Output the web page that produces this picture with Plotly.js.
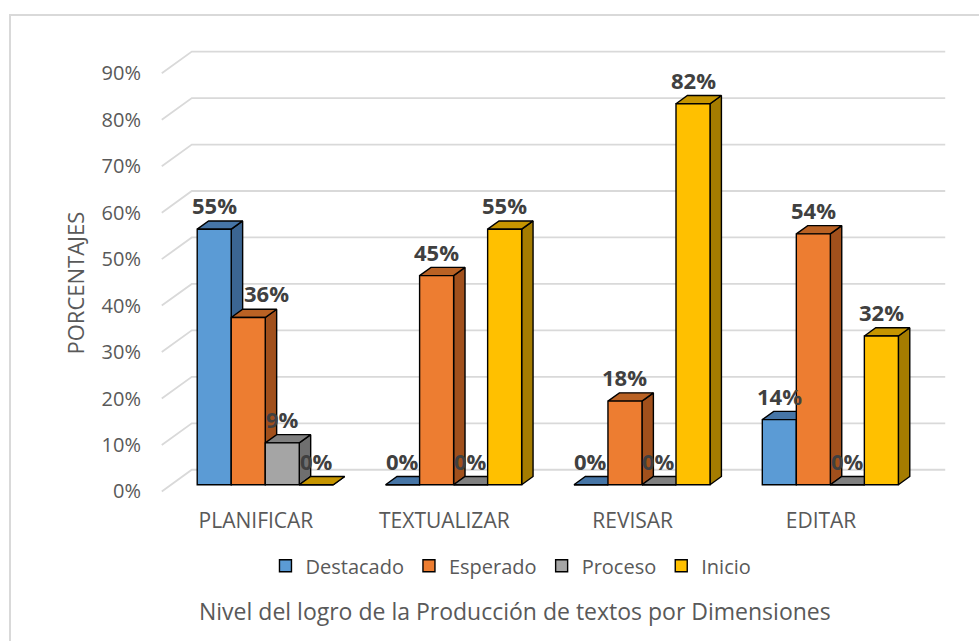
<!DOCTYPE html>
<html><head><meta charset="utf-8">
<script src="https://cdn.plot.ly/plotly-3.0.1.min.js"></script>
<style>
html,body{margin:0;padding:0;overflow:hidden;background:#fff;width:979px;height:641px}
#chart{position:absolute;left:0;top:0;width:979px;height:641px}
#frame{position:absolute;left:9px;top:14px;width:1000px;height:700px;border:2px solid #d9d9d9;pointer-events:none}
</style>
</head><body>
<div id="chart"></div><div id="frame"></div>
<script>
// ---- data ----
const categories = ['PLANIFICAR', 'TEXTUALIZAR', 'REVISAR', 'EDITAR'];
const seriesNames = ['Destacado', 'Esperado', 'Proceso', 'Inicio'];
const destacado = [0.55, 0.00, 0.00, 0.14];
const esperado  = [0.36, 0.45, 0.18, 0.54];
const proceso   = [0.09, 0.00, 0.00, 0.00];
const inicio    = [0.00, 0.55, 0.82, 0.32];
const tickValues = [0, 0.1, 0.2, 0.3, 0.4, 0.5, 0.6, 0.7, 0.8, 0.9];
const tickLabels = ['0%', '10%', '20%', '30%', '40%', '50%', '60%', '70%', '80%', '90%'];
const yTitle = 'PORCENTAJES';
const xTitle = 'Nivel del logro de la Producción de textos por Dimensiones';

// ---- styles ----
const frontColors = ['#5B9BD5', '#ED7D31', '#A5A5A5', '#FFC000'];
const topColors   = ['#4675A6', '#BA6224', '#808080', '#C69500'];
const sideColors  = ['#3B6592', '#A1501C', '#6F6F6F', '#A57C00'];
const FONT = 'Open Sans, Noto Sans, sans-serif';
const TXT = '#595959';

// geometry (px -> data units)
const PPX = 188.25;           // px per category
const PPY = 464.8;            // px per 100%
const DX = 30 / PPX;          // full depth, x
const DY = 21.7 / PPY;        // full depth, y
const F0 = 0.31, F1 = 0.69;   // bar depth (front/back fraction)
const W = 34 / PPX;           // bar width
const ddx = (F1 - F0) * DX, ddy = (F1 - F0) * DY;
const BASE = F0 * DY;

const seriesValues = [destacado, esperado, proceso, inicio];

// plot area pixel mapping
const X0PX = 162, Y0PX = 491.7;           // pixel of (x=-0.5, y=0)
const xr = [-0.52, 3.5 + DX + 0.02];
const yr = [-0.012, 0.9 + DY + 0.025];
const lpx = X0PX + (xr[0] + 0.5) * PPX;
const rpx = X0PX + (xr[1] + 0.5) * PPX;
const bpx = Y0PX - yr[0] * PPY;
const tpx = Y0PX - yr[1] * PPY;
const plotW = rpx - lpx, plotH = bpx - tpx;
const paperX = px => (px - lpx) / plotW;
const paperY = py => (bpx - py) / plotH;

const traces = [];

// gridlines (back wall + left wall)
const gx = [], gy = [];
tickValues.forEach(v => {
  gx.push(-0.5, -0.5 + DX, 3.5 + DX, null);
  gy.push(v, v + DY, v + DY, null);
});
traces.push({type: 'scatter', mode: 'lines', x: gx, y: gy, line: {color: '#d9d9d9', width: 1.8},
  hoverinfo: 'skip', showlegend: false, zorder: -1});

const annotations = [];
const labelXShift = {'1,0': 18};

seriesValues.forEach((vals, j) => {
  const off = F0 * DX - 2 * W + j * W;
  const sx = [], sy = [], tx = [], ty = [];
  vals.forEach((v, i) => {
    const L = i + off, R = L + W, B = BASE, T = v + BASE;
    sx.push(R, R, R + ddx, R + ddx, R, null);
    sy.push(B, T, T + ddy, B + ddy, B, null);
    tx.push(L, R, R + ddx, L + ddx, L, null);
    ty.push(T, T, T + ddy, T + ddy, T, null);
    annotations.push({xref: 'x', yref: 'y', x: L + W / 2, y: T, yshift: 24,
      xanchor: 'center', yanchor: 'middle',
      xshift: labelXShift[j + ',' + i] || 0,
      text: Math.round(v * 100) + '%', showarrow: false,
      font: {family: FONT, size: 22, color: '#404040', weight: 'bold'}});
  });
  traces.push({type: 'scatter', mode: 'lines', x: sx, y: sy, fill: 'toself', fillcolor: sideColors[j],
    line: {color: '#000', width: 1.4}, hoverinfo: 'skip', showlegend: false, zorder: 3 * j});
  traces.push({type: 'scatter', mode: 'lines', x: tx, y: ty, fill: 'toself', fillcolor: topColors[j],
    line: {color: '#000', width: 1.4}, hoverinfo: 'skip', showlegend: false, zorder: 3 * j + 1});
  traces.push({type: 'bar', name: seriesNames[j], x: categories.map((c, i) => i), y: vals,
    base: BASE, width: W, offset: off,
    marker: {color: frontColors[j], line: {color: '#000', width: 1.4}},
    zorder: 3 * j + 2});
});

annotations.push({xref: 'paper', yref: 'paper', x: paperX(75.5), y: paperY(283.5), text: yTitle,
  xanchor: 'center', yanchor: 'middle',
  textangle: -90, showarrow: false, font: {family: FONT, size: 22, color: TXT}});
annotations.push({xref: 'paper', yref: 'paper', x: paperX(515), y: paperY(611), text: xTitle,
  xanchor: 'center', yanchor: 'middle',
  showarrow: false, font: {family: FONT, size: 23, color: TXT}});

const layout = {
  width: 979, height: 641,
  margin: {l: lpx, r: 979 - rpx, t: tpx, b: 641 - bpx, pad: 0},
  paper_bgcolor: 'rgba(0,0,0,0)', plot_bgcolor: 'rgba(0,0,0,0)',
  barmode: 'overlay', showlegend: true, hovermode: false,
  font: {family: FONT, color: TXT},
  xaxis: {range: xr, tickvals: [0, 1, 2, 3], ticktext: categories, showgrid: false, zeroline: false,
    showline: false, ticks: '', ticklabelstandoff: 9, tickfont: {family: FONT, size: 21, color: TXT}, fixedrange: true},
  yaxis: {range: yr, tickvals: tickValues, ticktext: tickLabels, showgrid: false, zeroline: false,
    showline: false, ticks: '', ticklabelstandoff: 16, tickfont: {family: FONT, size: 20, color: TXT}, fixedrange: true},
  legend: {orientation: 'h', xanchor: 'center', yanchor: 'middle', x: paperX(511), y: paperY(566),
    font: {family: FONT, size: 20, color: TXT}, bgcolor: 'rgba(0,0,0,0)', traceorder: 'normal'},
  annotations: annotations
};

Plotly.newPlot('chart', traces, layout, {staticPlot: true, displayModeBar: false});
</script>
</body></html>
